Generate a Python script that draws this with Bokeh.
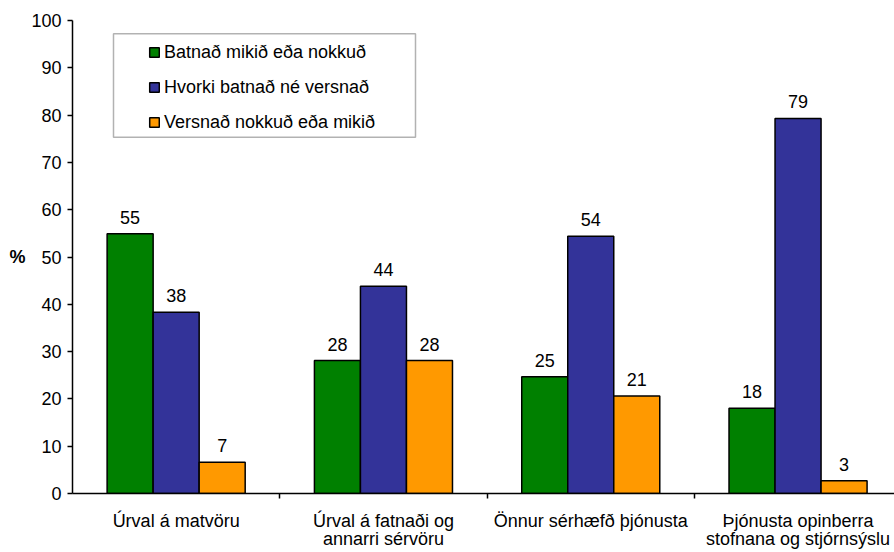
from bokeh.plotting import figure
from bokeh.models import (Range1d, FixedTicker, LabelSet, ColumnDataSource, Legend,
                          LegendItem, BoxAnnotation, LinearAxis)
from bokeh.core.properties import value
from bokeh.embed import file_html
from bokeh.resources import INLINE

categories = ["Úrval á matvöru",
              "Úrval á fatnaði og\nannarri sérvöru",
              "Önnur sérhæfð þjónusta",
              "Þjónusta opinberra\nstofnana og stjórnsýslu"]
series_names = ["Batnað mikið eða nokkuð",
                "Hvorki batnað né versnað",
                "Versnað nokkuð eða mikið"]
improved = [54.9, 28.1, 24.7, 18.0]
unchanged = [38.3, 43.8, 54.4, 79.3]
worse = [6.6, 28.1, 20.6, 2.7]
y_ticks = [0, 10, 20, 30, 40, 50, 60, 70, 80, 90, 100]
y_title = "%"
colors = ["#008000", "#333399", "#FF9900"]

FONT = "Liberation Sans"
FS = "18px"
PX_PER_CAT = 207.3
FRAME_W = 822
PX_PER_UNIT = 473 / 100.0

p = figure(width=894, height=552, output_backend="svg", toolbar_location=None,
           x_range=Range1d(0, FRAME_W / PX_PER_CAT), y_range=Range1d(0, 100),
           min_border_left=72, min_border_right=0, min_border_top=20, min_border_bottom=59)
p.outline_line_color = None
p.xgrid.visible = False
p.ygrid.visible = False
p.background_fill_color = "white"
p.border_fill_color = "white"

bar_w = 0.222
offsets = [-bar_w, 0.0, bar_w]
renderers = []
for vals, off, col in zip([improved, unchanged, worse], offsets, colors):
    xs = [i + 0.5 + off for i in range(len(categories))]
    src = ColumnDataSource(dict(x=xs, top=vals, lbl=[f"{v:.0f}" for v in vals]))
    r = p.vbar(x="x", top="top", width=bar_w, bottom=0, source=src,
               fill_color=col, line_color="black", line_width=1.5)
    renderers.append(r)
    p.add_layout(LabelSet(x="x", y="top", text="lbl", source=src, y_offset=10,
                          text_align="center", text_baseline="alphabetic",
                          text_font=value(FONT), text_font_size=value(FS),
                          text_color="black"))

# y axis
p.yaxis.ticker = FixedTicker(ticks=y_ticks)
p.yaxis.major_tick_out = 5
p.yaxis.major_tick_in = 0
p.yaxis.minor_tick_out = 0
p.yaxis.minor_tick_in = 0
p.yaxis.major_label_standoff = 6
p.yaxis.major_label_text_font = FONT
p.yaxis.major_label_text_font_size = FS
p.yaxis.major_label_text_color = "black"
p.yaxis.axis_line_color = "black"
p.yaxis.axis_line_width = 1.5
p.yaxis.major_tick_line_color = "black"
p.yaxis.major_tick_line_width = 1.5

# "%" title as an extra left axis carrying a single label at 50
pct_axis = LinearAxis(ticker=FixedTicker(ticks=[50]),
                      major_label_overrides={50: y_title},
                      axis_line_color=None, major_tick_line_color=None,
                      minor_tick_line_color=None, major_tick_out=0, major_tick_in=0,
                      major_label_standoff=3, major_label_text_font=FONT,
                      major_label_text_font_size=FS, major_label_text_font_style="bold",
                      major_label_text_color="black")
p.add_layout(pct_axis, "left")

# x axis: labels at group centres, ticks at group boundaries
centers = [i + 0.5 for i in range(len(categories))]
p.xaxis.ticker = FixedTicker(ticks=centers,
                             minor_ticks=[float(i) for i in range(1, len(categories))])
p.xaxis.major_label_overrides = {c: t for c, t in zip(centers, categories)}
p.xaxis.major_tick_out = 0
p.xaxis.major_tick_in = 0
p.xaxis.major_tick_line_color = None
p.xaxis.minor_tick_out = 5
p.xaxis.minor_tick_in = 0
p.xaxis.minor_tick_line_color = "black"
p.xaxis.minor_tick_line_width = 1.5
p.xaxis.axis_line_color = "black"
p.xaxis.axis_line_width = 1.5
p.xaxis.major_label_standoff = 12
p.xaxis.major_label_text_font = FONT
p.xaxis.major_label_text_font_size = FS
p.xaxis.major_label_text_color = "black"
p.xaxis.major_label_text_line_height = 0.9

# legend box
p.add_layout(BoxAnnotation(left=41 / PX_PER_CAT, right=343 / PX_PER_CAT,
                           top=(493 - 33.3) / PX_PER_UNIT, bottom=(493 - 136.7) / PX_PER_UNIT,
                           fill_alpha=0, line_color="black", line_width=1.5))

legend = Legend(items=[LegendItem(label=n, renderers=[r]) for n, r in zip(series_names, renderers)],
                location=(76, 360), border_line_color=None, background_fill_alpha=0,
                padding=0, margin=0, glyph_width=12, glyph_height=12, label_standoff=4,
                label_height=22, spacing=13, label_text_font=FONT, label_text_font_size=FS,
                label_text_color="black")
p.add_layout(legend)

open("out.html", "w").write(file_html(p, INLINE))
